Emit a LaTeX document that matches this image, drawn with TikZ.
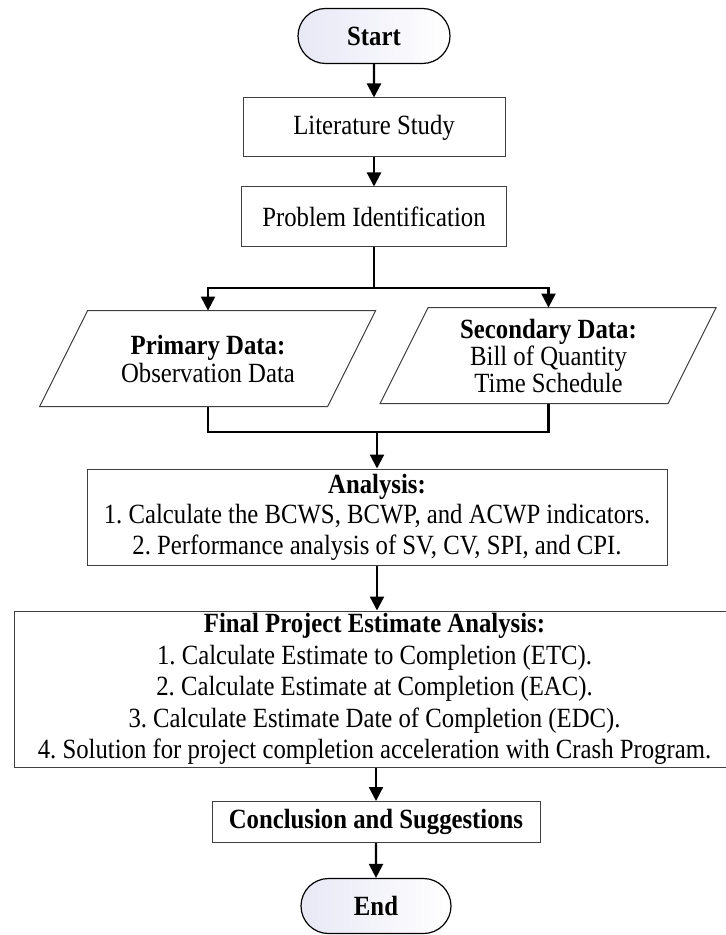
\documentclass[tikz,border=0pt]{standalone}
\usepackage{fontspec}
\setmainfont[FakeStretch = 0.89]{Liberation Serif}
\usetikzlibrary{shapes.misc, arrows.meta}
\frenchspacing
\definecolor{termfill}{RGB}{232,232,246}

\begin{document}
\begin{tikzpicture}[x = 0.5pt, y = -0.5pt,
  every node/.style = {font = \fontsize{13.9}{15.3}\selectfont, align = center, inner sep = 0pt},
  box/.style = {draw = black!75, line width = 0.5pt},
  term/.style = {rounded rectangle, draw = black, line width = 0.6pt, left color = termfill, right color = white,
    minimum width = 76pt, minimum height = 27.5pt, font = \fontsize{13.9}{15.3}\selectfont\bfseries},
  data/.style = {minimum width = 144pt, minimum height = 48pt, font = \fontsize{13.9}{13.6}\selectfont},
  flow/.style = {line width = 1.1pt, -{Triangle[length = 7pt, width = 7pt]}},
  link/.style = {line width = 1.1pt}]
\useasboundingbox (0,0) rectangle (726,935);
% terminals and boxes
\node [term] (start) at (374,36) {Start};
\node [box, minimum width = 131pt, minimum height = 29.5pt] (lit) at (374,127.5) {Literature Study};
\node [box, minimum width = 132.5pt, minimum height = 30pt] (prob) at (374,217) {Problem Identification};
\node [data] (prim) at (208,359) {\textbf{Primary Data:}\\ Observation Data};
\node [data] (sec) at (548.5,356) {\textbf{Secondary Data:}\\ Bill of Quantity\\ Time Schedule};
\foreach \n in {prim, sec}
  \draw [box] (\n.north west) ++(24,0) -- ++(288,0) -- ++(-48,96) -- ++(-288,0) -- cycle;
\node [box, minimum width = 290pt, minimum height = 48pt] (ana) at (377,517)
  {\textbf{Analysis:}\\ 1. Calculate the BCWS, BCWP, and ACWP indicators.\\ 2. Performance analysis of SV, CV, SPI, and CPI.};
\node [box, minimum width = 360pt, minimum height = 78pt, font = \fontsize{13.9}{15.7}\selectfont] (final) at (374.5,689)
  {\textbf{Final Project Estimate Analysis:}\\ 1. Calculate Estimate to Completion (ETC).\\ 2. Calculate Estimate at Completion (EAC).\\
   3. Calculate Estimate Date of Completion (EDC).\\ 4. Solution for project completion acceleration with Crash Program.};
\node [box, minimum width = 164pt, minimum height = 20.5pt, font = \fontsize{13.9}{15.3}\selectfont\bfseries] (concl) at (376,822)
  {Conclusion and Suggestions};
\node [term, minimum width = 75pt] (end) at (376,906) {End};
% connectors
\coordinate (split) at (374,288);
\coordinate (join) at (377,432);
\draw [flow] (start) -- (lit);
\draw [flow] (lit) -- (prob);
\draw [link] (prob.south) -- (split);
\draw [flow] (split) -| (prim.north);
\draw [flow] (split) -| (sec.north);
\draw [link] (prim.south) |- (join) -| (sec.south);
\draw [flow] (join) -- (ana.north);
\draw [flow] (ana.south) -- (ana.south |- final.north);
\draw [flow] (final.south -| concl.north) -- (concl.north);
\draw [flow] (concl) -- (end);
\end{tikzpicture}
\end{document}
